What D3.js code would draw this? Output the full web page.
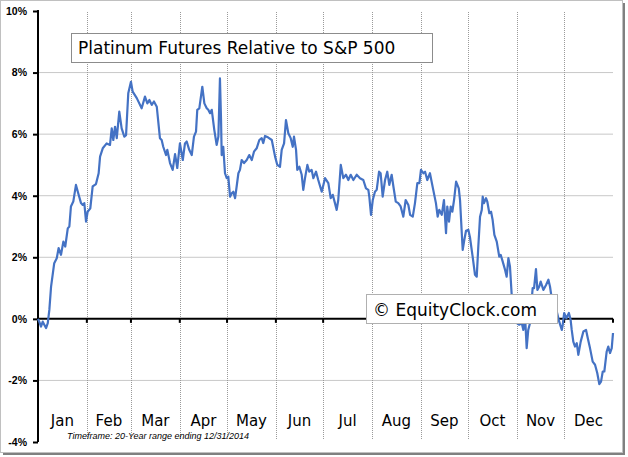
<!DOCTYPE html>
<html>
<head>
<meta charset="utf-8">
<script src="https://cdn.jsdelivr.net/npm/d3@7"></script>
<style>
  body { margin: 0; background: #fff; }
  svg { display: block; }
</style>
</head>
<body>
<div id="chart"></div>
<script>
// day of year (0 = Jan 1) and relative performance in %
var days = [0, 0.8, 1.9, 3.0, 4.0, 5.1, 6.2, 7.2, 8.3, 10.3, 11.9, 13.1, 14.6, 16.1, 17.3, 18.9, 19.9, 20.9, 22.4, 24.1,
  25.8, 27.3, 28.4, 29.4, 30.5, 31.5, 33.2, 34.7, 36.8, 38.5, 39.4, 41.1, 43.6, 45.7, 46.8, 47.8, 48.9, 50.0, 51.6, 53.1,
  54.8, 55.9, 57.3, 59.0, 60.1, 62.7, 65.8, 67.9, 69.4, 70.7, 72.2, 73.6, 75.4, 77.4, 78.5, 79.5, 81.3, 82.1, 83.8, 85.5,
  87.0, 88.4, 90.1, 91.9, 93.3, 94.4, 96.0, 97.6, 99.0, 100.3, 101.1, 102.4, 104.3, 105.6, 107.1, 108.1, 109.2, 110.3, 111.9, 113.4,
  114.5, 115.5, 116.2, 116.6, 117.6, 118.7, 119.8, 120.8, 121.9, 123.0, 124.0, 125.1, 126.1, 127.2, 128.2, 129.3, 130.8, 132.5, 134.1, 135.7,
  137.1, 138.8, 140.5, 142.0, 143.0, 144.1, 146.2, 148.4, 150.5, 151.9, 153.6, 154.7, 156.2, 157.4, 158.9, 160.4, 161.7, 162.5, 163.8, 164.6,
  165.9, 167.4, 168.4, 169.5, 171.0, 172.2, 173.7, 174.8, 176.5, 177.9, 180.1, 182.2, 184.3, 185.8, 187.1, 188.5, 189.6, 190.6, 192.2, 193.8,
  195.5, 197.0, 198.5, 200.2, 202.3, 204.4, 206.5, 208.2, 209.7, 210.3, 211.4, 212.5, 213.9, 215.0, 216.5, 217.5, 218.8, 220.3, 221.7, 223.0,
  224.5, 225.6, 227.1, 228.7, 230.2, 231.9, 233.4, 235.1, 236.2, 237.9, 239.3, 240.8, 242.1, 243.1, 244.6, 245.7, 247.1, 248.8, 250.9, 252.6,
  253.7, 254.7, 256.3, 257.7, 259.0, 259.8, 260.9, 262.0, 263.0, 264.1, 265.4, 267.1, 267.9, 269.0, 269.6, 270.6, 271.7, 273.2, 274.2, 275.9,
  277.4, 278.5, 279.5, 280.6, 281.7, 282.3, 283.1, 284.4, 285.2, 286.5, 287.6, 288.6, 289.7, 291.2, 292.8, 293.7, 295.0, 296.5, 297.5, 298.6,
  299.6, 300.7, 302.2, 303.9, 305.5, 307.1, 308.1, 309.2, 310.2, 311.2, 312.3, 313.4, 314.0, 314.9, 316.1, 317.0, 318.2, 319.1, 320.8, 322.5,
  324.0, 325.0, 326.1, 328.2, 329.3, 330.9, 332.5, 333.1, 334.0, 335.4, 337.0, 338.1, 338.8, 339.8, 340.9, 342.0, 343.0, 344.5, 346.2, 347.9,
  349.0, 350.4, 352.1, 353.6, 355.0, 356.3, 357.4, 358.5, 359.5, 361.0, 362.0, 363.1, 364.2, 365.0];

var values = [0.0, -0.09, -0.25, -0.09, -0.19, -0.30, -0.14, 0.29, 1.05, 1.81, 1.97, 2.30, 2.08, 2.51, 2.35, 2.94, 3.00, 3.65, 3.81, 4.35,
  4.03, 3.76, 3.70, 3.76, 3.16, 3.48, 3.59, 4.30, 4.38, 4.73, 5.27, 5.54, 5.70, 5.65, 6.19, 5.81, 6.24, 5.87, 6.73, 6.19,
  5.92, 5.97, 7.33, 7.70, 7.38, 7.17, 6.84, 7.22, 7.00, 7.11, 6.95, 7.06, 6.89, 5.87, 5.81, 5.59, 5.32, 5.49, 5.06, 4.84,
  5.35, 4.90, 5.70, 5.16, 5.70, 5.76, 5.49, 5.32, 5.92, 6.08, 6.79, 6.84, 7.54, 7.00, 6.84, 6.79, 6.68, 6.79, 6.14, 5.65,
  5.92, 7.81, 6.46, 5.32, 5.59, 4.73, 4.57, 4.62, 3.97, 4.08, 4.13, 3.92, 4.30, 4.73, 4.84, 5.16, 5.06, 5.16, 5.32, 5.16,
  5.43, 5.54, 5.81, 5.87, 5.71, 5.94, 5.89, 5.81, 5.27, 5.00, 4.94, 5.49, 5.70, 6.46, 6.03, 5.87, 5.59, 5.92, 5.49, 4.84,
  4.94, 4.68, 4.19, 4.57, 5.00, 4.78, 4.84, 4.57, 4.78, 4.51, 4.13, 4.57, 4.41, 3.92, 4.03, 3.76, 3.54, 3.86, 5.00, 4.57,
  4.68, 4.51, 4.68, 4.51, 4.68, 4.57, 4.51, 4.24, 4.19, 3.97, 3.38, 3.86, 4.13, 4.19, 4.78, 4.73, 3.97, 4.51, 4.78, 4.35,
  4.68, 4.30, 3.81, 3.76, 3.65, 3.32, 3.86, 3.70, 3.38, 3.32, 3.76, 4.41, 4.41, 4.84, 4.73, 4.78, 4.51, 4.73, 4.19, 3.76,
  3.32, 3.54, 3.38, 3.86, 2.78, 3.65, 3.16, 3.65, 3.48, 3.86, 4.46, 4.24, 3.86, 2.79, 2.24, 2.56, 2.86, 2.89, 2.65, 2.02,
  1.43, 1.37, 2.35, 3.32, 3.54, 3.97, 3.76, 3.92, 3.81, 3.43, 3.48, 3.21, 2.73, 2.51, 2.02, 2.08, 1.86, 1.59, 1.37, 1.97,
  1.70, 0.78, 0.29, -0.14, -0.19, -0.14, -0.36, 0.07, -0.95, -0.36, -0.14, 0.62, 1.00, 1.00, 1.62, 0.94, 1.05, 1.21, 0.94, 1.10,
  1.27, 1.05, 0.67, 0.29, 0.24, -0.10, -0.36, -0.19, 0.19, 0.02, 0.19, -0.03, -0.36, -0.74, -0.90, -0.79, -1.17, -0.74, -0.41, -0.36,
  -0.63, -0.95, -1.39, -1.49, -1.76, -2.12, -2.04, -1.71, -1.71, -1.06, -0.90, -1.11, -0.95, -0.46];

var months = ["Jan", "Feb", "Mar", "Apr", "May", "Jun", "Jul", "Aug", "Sep", "Oct", "Nov", "Dec"];
var monthStarts = [0, 31, 59, 90, 120, 151, 181, 212, 243, 273, 304, 334, 365];
var yTicks = [-4, -2, 0, 2, 4, 6, 8, 10];

var W = 628, H = 457;
var svg = d3.select("#chart").append("svg")
    .attr("width", W).attr("height", H);

// frame with drop shadow
svg.append("rect").attr("x", 3).attr("y", 3).attr("width", 622).attr("height", 452).attr("fill", "#808080");
svg.append("rect").attr("x", 0.5).attr("y", 0.5).attr("width", 622).attr("height", 452)
    .attr("fill", "#fff").attr("stroke", "#c0c0c0");

var x = d3.scaleLinear().domain([0, 365]).range([38, 613]);
var y = d3.scaleLinear().domain([-4, 10]).range([442, 11]);

// horizontal grid
svg.selectAll(".hgrid").data(yTicks.filter(function (d) { return d > -4 && d < 10 && d != 0; }))
   .enter().append("line")
   .attr("class", "hgrid")
   .attr("x1", x(0)).attr("x2", x(365))
   .attr("y1", function (d) { return y(d); }).attr("y2", function (d) { return y(d); })
   .attr("stroke", "#c8c8c8").attr("stroke-width", 1);

// vertical month grid
svg.selectAll(".vgrid").data(monthStarts.slice(1, 12))
   .enter().append("line")
   .attr("class", "vgrid")
   .attr("x1", function (d) { return Math.round(x(d)) + 0.5; })
   .attr("x2", function (d) { return Math.round(x(d)) + 0.5; })
   .attr("y1", 12).attr("y2", 440)
   .attr("stroke", "#9a9a9a").attr("stroke-width", 1)
   .attr("stroke-dasharray", "1,1");

// zero line with month ticks
svg.append("line")
   .attr("x1", x(0)).attr("x2", x(365))
   .attr("y1", y(0)).attr("y2", y(0))
   .attr("stroke", "#000").attr("stroke-width", 2);
svg.selectAll(".mtick").data(monthStarts.slice(1))
   .enter().append("line")
   .attr("x1", function (d) { return x(d); }).attr("x2", function (d) { return x(d); })
   .attr("y1", y(0)).attr("y2", y(0) + 4)
   .attr("stroke", "#000").attr("stroke-width", 2);

// y axis
var yAxis = d3.axisLeft(y).tickValues(yTicks).tickSize(5).tickFormat(function (d) { return d + "%"; });
var ya = svg.append("g").attr("transform", "translate(38,0)").call(yAxis);
ya.select(".domain").attr("stroke", "#000").attr("stroke-width", 2).attr("d", "M0,10V442");
ya.selectAll(".tick line").attr("stroke", "#000").attr("stroke-width", 2);
ya.selectAll(".tick text")
  .attr("x", -11)
  .style("font-family", "'Liberation Sans', Arial, sans-serif")
  .style("font-size", "10.5px").style("font-weight", "bold").attr("fill", "#000");

// month labels
svg.selectAll(".mlabel").data(months)
   .enter().append("text")
   .attr("x", function (d, i) { return x((monthStarts[i] + monthStarts[i + 1]) / 2); })
   .attr("y", 426)
   .attr("text-anchor", "middle")
   .style("font-family", "'DejaVu Sans', Verdana, sans-serif")
   .style("font-size", "15px")
   .text(function (d) { return d; });

svg.append("text")
   .attr("x", 67).attr("y", 439)
   .style("font-family", "'Liberation Sans', Arial, sans-serif")
   .style("font-size", "9px").style("font-style", "italic")
   .text("Timeframe: 20-Year range ending 12/31/2014");

// series
var line = d3.line()
    .x(function (d) { return x(d[0]); })
    .y(function (d) { return y(d[1]); });
svg.append("path")
   .datum(d3.zip(days, values))
   .attr("d", line)
   .attr("fill", "none")
   .attr("stroke", "#4472c4")
   .attr("stroke-width", 2.2)
   .attr("stroke-linejoin", "round");

// title box
svg.append("rect").attr("x", 71.5).attr("y", 33.5).attr("width", 361).attr("height", 29)
   .attr("fill", "#fff").attr("stroke", "#8c8c8c");
svg.append("text").attr("x", 78).attr("y", 54)
   .style("font-family", "'DejaVu Sans', Verdana, sans-serif").style("font-size", "17px")
   .text("Platinum Futures Relative to S&P 500");

// watermark box
svg.append("rect").attr("x", 366.5).attr("y", 294.5).attr("width", 191).attr("height", 29)
   .attr("fill", "#fff").attr("stroke", "#b0b0b0");
svg.append("text").attr("x", 373).attr("y", 316)
   .style("font-family", "'DejaVu Sans', Verdana, sans-serif").style("font-size", "17px")
   .text("\u00a9 EquityClock.com");
</script>
</body>
</html>
